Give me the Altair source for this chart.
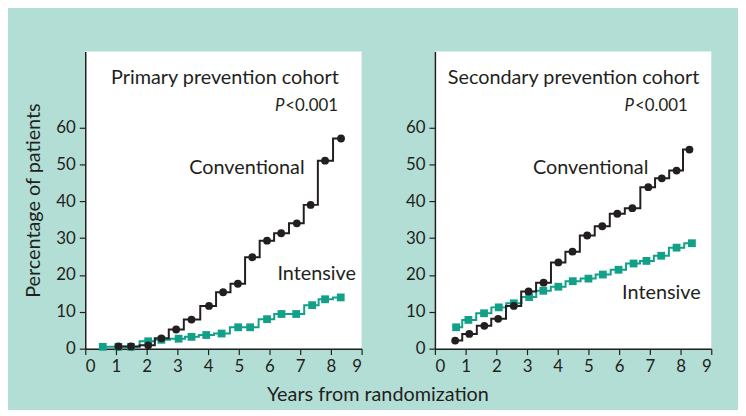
import altair as alt
import pandas as pd

# ---------------- data ----------------
year_ticks = [0, 1, 2, 3, 4, 5, 6, 7, 8, 9]
pct_ticks = [0, 10, 20, 30, 40, 50, 60]

cohorts = ["Primary prevention cohort", "Secondary prevention cohort"]
groups = ["Intensive", "Conventional"]

prim_conv_x = [1.08, 1.49, 2.05, 2.48, 2.96, 3.46, 4.03, 4.49, 4.97, 5.44, 5.92, 6.38, 6.89, 7.34, 7.81, 8.33]
prim_conv_y = [0.6, 0.6, 0.9, 2.8, 5.2, 7.9, 11.6, 15.3, 17.6, 24.8, 29.3, 31.3, 34.0, 39.0, 51.0, 57.0]

prim_int_x = [0.57, 1.08, 1.49, 2.05, 2.48, 3.04, 3.46, 3.94, 4.44, 4.98, 5.37, 5.92, 6.39, 6.87, 7.39, 7.81, 8.32]
prim_int_y = [0.5, 0.5, 0.5, 2.0, 2.4, 2.7, 3.2, 3.7, 4.1, 5.8, 5.8, 8.0, 9.4, 9.4, 11.8, 13.4, 13.9]

sec_conv_x = [0.66, 1.12, 1.61, 2.06, 2.57, 3.05, 3.54, 4.02, 4.48, 4.96, 5.45, 5.94, 6.43, 6.95, 7.39, 7.87, 8.29]
sec_conv_y = [2.2, 4.0, 6.2, 8.1, 11.6, 15.5, 17.9, 23.4, 26.3, 30.7, 33.2, 36.6, 38.1, 43.8, 46.2, 48.3, 54.0]

sec_int_x = [0.69, 1.09, 1.60, 2.08, 2.57, 3.07, 3.53, 4.02, 4.49, 5.00, 5.47, 5.98, 6.47, 6.89, 7.37, 7.87, 8.37]
sec_int_y = [5.8, 7.8, 9.6, 11.2, 12.3, 14.0, 15.7, 16.8, 18.3, 19.0, 20.1, 21.4, 23.1, 23.8, 25.2, 27.4, 28.6]

p_label = "<0.001"
x_title = "Years from randomization"
y_title = "Percentage of patients"


def rows(cohort, group, xs, ys):
    return pd.DataFrame({"cohort": cohort, "group": group, "year": xs, "pct": ys})


df = pd.concat([
    rows(cohorts[0], "Intensive", prim_int_x, prim_int_y),
    rows(cohorts[0], "Conventional", prim_conv_x, prim_conv_y),
    rows(cohorts[1], "Intensive", sec_int_x, sec_int_y),
    rows(cohorts[1], "Conventional", sec_conv_x, sec_conv_y),
], ignore_index=True)

# ---------------- style ----------------
FONT = "Lato"
INK = "#231f20"
TEAL = "#12a088"
BG = "#b3ded5"
W, H = 279, 300

color_scale = alt.Scale(domain=["Conventional", "Intensive"], range=[INK, TEAL])
shape_scale = alt.Scale(domain=["Conventional", "Intensive"], range=["circle", "square"])


def txt(s, x, y, align="left", style="normal", size=20):
    return alt.Chart(pd.DataFrame({"t": [s]})).mark_text(
        align=align, baseline="alphabetic", font=FONT, fontSize=size,
        fontStyle=style, color=INK
    ).encode(x=alt.value(x), y=alt.value(y), text="t:N")


def panel(cohort, conv_pos, int_pos, title_x, show_ytitle):
    base = alt.Chart(df).transform_filter(alt.datum.cohort == cohort)
    xenc = alt.X("year:Q", scale=alt.Scale(domain=[0, 9], nice=False),
                 axis=alt.Axis(values=year_ticks, title=None, format="d"))
    if show_ytitle:
        yaxis = alt.Axis(values=pct_ticks, title=y_title, format="d")
    else:
        yaxis = alt.Axis(values=pct_ticks, title=None, format="d")
    yenc = alt.Y("pct:Q", scale=alt.Scale(domain=[0, 80.6], nice=False), axis=yaxis)
    col = alt.Color("group:N", scale=color_scale, legend=None)

    line = base.mark_line(interpolate="step", strokeWidth=2).encode(
        x=xenc, y=yenc, color=col, detail="group:N")
    pts = base.mark_point(filled=True, opacity=1, size=62).encode(
        x=xenc, y=yenc, color=col,
        shape=alt.Shape("group:N", scale=shape_scale, legend=None))

    layers = [
        line, pts,
        txt(cohort, title_x, 33, align="center"),
        txt("P", 201, 60, align="right", style="italic", size=17),
        txt(p_label, 202, 60, size=17),
        txt("Conventional", conv_pos[0], conv_pos[1]),
        txt("Intensive", int_pos[0], int_pos[1]),
    ]
    return alt.layer(*layers).properties(width=W, height=H)


left = panel(cohorts[0], (105, 124), (194, 231), 141, True)
right = panel(cohorts[1], (99, 124), (189, 250), 140, False)

chart = alt.hconcat(left, right, spacing=43).properties(
    background=BG,
    padding={"left": 16, "top": 42, "right": 26, "bottom": 3},
    title=alt.TitleParams(x_title, orient="bottom", anchor="middle", font=FONT,
                          fontSize=20, fontWeight="normal", color=INK, offset=11, dx=10),
).configure_view(fill="white", strokeWidth=0).configure_axis(
    domainColor=INK, domainWidth=1.5, tickColor=INK, tickSize=6, tickWidth=1.2,
    labelFont=FONT, labelFontSize=17, labelColor=INK, labelPadding=4, grid=False,
    titleFont=FONT, titleFontSize=20, titleFontWeight="normal", titleColor=INK,
    titlePadding=12,
)

chart.save("out.html", embed_options={"renderer": "svg", "actions": False})
